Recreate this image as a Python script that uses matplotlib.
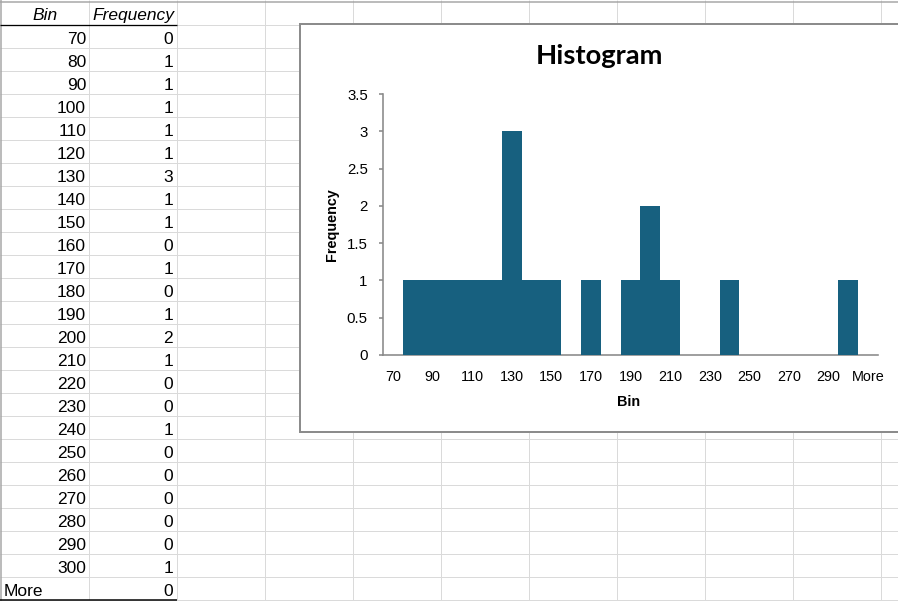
import matplotlib.pyplot as plt
from matplotlib.patches import Rectangle

# table / histogram data
bins = ["70", "80", "90", "100", "110", "120", "130", "140", "150", "160",
        "170", "180", "190", "200", "210", "220", "230", "240", "250", "260",
        "270", "280", "290", "300", "More"]
freq = [0, 1, 1, 1, 1, 1, 3, 1, 1, 0, 1, 0, 1, 2, 1, 0, 0, 1, 0, 0, 0, 0, 0, 1, 0]

W, H = 898, 601
fig = plt.figure(figsize=(W / 100, H / 100), dpi=100)

# sheet background in pixel coords
bg = fig.add_axes([0, 0, 1, 1])
bg.set_xlim(0, W)
bg.set_ylim(H, 0)
bg.axis("off")

px = 0.72  # 1 pixel in points
grid_c = "#DADADA"
col_x = [1 + 88 * i for i in range(11)]
row_y = [2 + 23 * i for i in range(27)]

for x in col_x[1:]:
    bg.vlines(x, 0, H, color=grid_c, lw=px)
for y in row_y[1:]:
    bg.hlines(y, 0, W, color=grid_c, lw=px)
bg.hlines(1.5, 0, W, color="#A6A6A6", lw=1.5 * px)
bg.vlines(1, 0, H, color="#A6A6A6", lw=1.5 * px)

# table header
sheet_font = "Liberation Sans"
bg.text(45, 20, "Bin", ha="center", va="baseline", fontsize=12.5,
        style="italic", family=sheet_font)
bg.text(133, 20, "Frequency", ha="center", va="baseline", fontsize=12.5,
        style="italic", family=sheet_font)
bg.hlines(24.5, 0, 177, color="black", lw=1.3 * px)

for i, (b, f) in enumerate(zip(bins, freq)):
    base = row_y[i + 2] - 4
    if b == "More":
        bg.text(4, base, b, ha="left", va="baseline", fontsize=12.5,
                family=sheet_font)
    else:
        bg.text(86, base, b, ha="right", va="baseline", fontsize=12.5,
                family=sheet_font)
    bg.text(173, base, str(f), ha="right", va="baseline", fontsize=12.5,
            family=sheet_font)
bg.hlines(600, 0, 177, color="black", lw=1.5 * px)

# chart box
bg.add_patch(Rectangle((300, 24), 640, 408, facecolor="white",
                       edgecolor="#8C8C8C", lw=2 * px, zorder=5))

title_font = ["Lato", "DejaVu Sans"]
chart_font = ["Liberation Sans", "DejaVu Sans"]
bg.text(599, 64, "Histogram", ha="center", va="baseline", fontsize=19.7,
        weight="bold", family=title_font, zorder=6)
bg.text(332, 225, "Frequency", ha="center", va="center", rotation=90,
        fontsize=10.4, weight="bold", family=chart_font, zorder=6)
bg.text(629, 402, "Bin", ha="center", va="center", fontsize=10.4,
        weight="bold", family=chart_font, zorder=6)

# histogram axes
left, right, top, bottom = 383, 878, 94, 355
ax = fig.add_axes([left / W, 1 - bottom / H, (right - left) / W,
                   (bottom - top) / H])
ax.set_facecolor("none")
pos = [i + 0.5 for i in range(len(bins))]
ax.bar(pos, freq, width=1.0, color="#17607F", zorder=3)
ax.set_xlim(0, len(bins))
ax.set_ylim(0, 3.5)

yt = [0, 0.5, 1, 1.5, 2, 2.5, 3, 3.5]
ax.set_yticks(yt)
ax.set_yticklabels(["0", "0.5", "1", "1.5", "2", "2.5", "3", "3.5"])
ax.set_xticks(pos[::2])
ax.set_xticklabels(bins[::2])

for s in ["top", "right"]:
    ax.spines[s].set_visible(False)
for s in ["left", "bottom"]:
    ax.spines[s].set_color("#898989")
    ax.spines[s].set_linewidth(1.6 * px)
ax.tick_params(axis="y", length=3, width=1.6 * px, color="#898989",
               pad=8, labelsize=10.8)
ax.tick_params(axis="x", length=0, pad=11, labelsize=10.4)
for lab in ax.get_xticklabels() + ax.get_yticklabels():
    lab.set_family(chart_font)

fig.savefig("out.png", dpi=100)
